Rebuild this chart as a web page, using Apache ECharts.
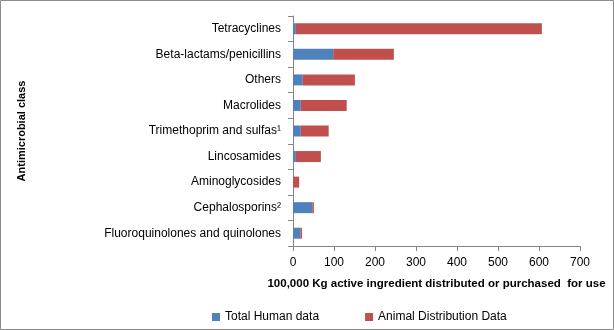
<!DOCTYPE html>
<html><head><meta charset="utf-8">
<script src="https://cdn.jsdelivr.net/npm/echarts@6/dist/echarts.min.js"></script>
<style>html,body{margin:0;padding:0;background:#fff}#c{width:614px;height:330px}</style>
</head><body><div id="c"></div>
<script>
var categories = ["Fluoroquinolones and quinolones","Cephalosporins\u00b2","Aminoglycosides","Lincosamides","Trimethoprim and sulfas\u00b9","Macrolides","Others","Beta-lactams/penicillins","Tetracyclines"];
var humanData = [18, 47, 0, 7, 19, 19, 24, 98, 7];
var animalData = [4, 4, 15, 61, 68, 112, 127, 148, 600];
var xTicks = [0, 700, 100];
var seriesNames = ["Total Human data", "Animal Distribution Data"];
var axisNames = ["100,000 Kg active ingredient distributed or purchased  for use", "Antimicrobial class"];

var chart = echarts.init(document.getElementById('c'), null, {renderer:'canvas'});
var font = "'Liberation Sans', Arial, sans-serif";
chart.setOption({
  animation: false,
  textStyle: {fontFamily: font, color: '#000'},
  graphic: [{type:'rect', shape:{x:0.5,y:0.5,width:613,height:329}, style:{fill:'none', stroke:'#8c8c8c', lineWidth:1}, silent:true}],
  grid: {left: 293, right: 34, top: 16, bottom: 84},
  legend: {
    bottom: 2, left: 207, itemWidth: 8, itemHeight: 8, itemGap: 46, icon: 'rect',
    textStyle: {fontSize: 12, fontFamily: font, color:'#000'},
    data: seriesNames
  },
  xAxis: {
    type: 'value', min: xTicks[0], max: xTicks[1], interval: xTicks[2],
    name: axisNames[0], nameLocation: 'middle', nameGap: 32,
    nameTextStyle: {fontWeight: 'bold', fontSize: 11.5, color:'#000'},
    axisLine: {show: true, lineStyle: {color: '#868686'}},
    axisTick: {show: true, length: 5, lineStyle: {color: '#868686'}},
    axisLabel: {fontSize: 12, color: '#000', margin: 11},
    splitLine: {show: false}
  },
  yAxis: {
    type: 'category', data: categories,
    name: axisNames[1], nameLocation: 'middle', nameGap: 266, nameRotate: 90,
    nameTextStyle: {fontWeight: 'bold', fontSize: 11, color:'#000'},
    axisLine: {show: true, lineStyle: {color: '#868686'}},
    axisTick: {show: true, length: 5, lineStyle: {color: '#868686'}},
    axisLabel: {fontSize: 12, color: '#000', margin: 12}
  },
  series: [
    {name: seriesNames[0], type: 'bar', stack: 't', data: humanData, barWidth: 11, itemStyle: {color: '#4F81BD'}},
    {name: seriesNames[1], type: 'bar', stack: 't', data: animalData, barWidth: 11, itemStyle: {color: '#C0504D'}}
  ]
});
</script></body></html>
